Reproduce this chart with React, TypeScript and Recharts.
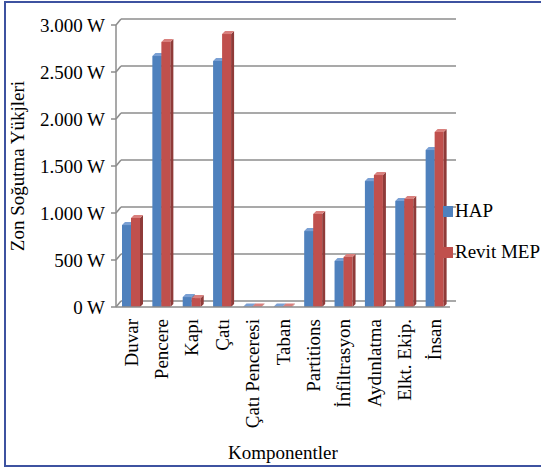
import React from 'react';
import { BarChart, Bar, XAxis, YAxis, CartesianGrid } from 'recharts';

const categories = [
  'Duvar', 'Pencere', 'Kapı', 'Çatı', 'Çatı Penceresi', 'Taban',
  'Partitions', 'İnfiltrasyon', 'Aydınlatma', 'Elkt. Ekip.', 'İnsan'
];
const hapValues = [872, 2670, 106, 2617, 5, 5, 808, 490, 1340, 1128, 1670];
const revitValues = [947, 2820, 95, 2904, 5, 5, 990, 532, 1404, 1149, 1862];
const yTicks = [0, 500, 1000, 1500, 2000, 2500, 3000];

const seriesNames = ['HAP', 'Revit MEP'];
const seriesColors = ['#4F81BD', '#C0504D'];
const sideColors = ['#3a6191', '#8f3b39'];
const topColors = ['#7aa0d4', '#d9807d'];

const data = categories.map((name, i) => ({
  name,
  hap: hapValues[i],
  revit: revitValues[i],
}));

const FONT = "'Liberation Serif', 'Times New Roman', Times, serif";
const FS = 19;
const D = 3;
const GRID = '#8c8c8c';
const txt = { fontFamily: FONT, fontSize: FS, fill: '#000' };

const fmt = (v: number) => `${v.toString().replace(/\B(?=(\d{3})+(?!\d))/g, '.')} W`;

function Bar3D(idx: number) {
  return (props: any) => {
    const { x, y, width, height } = props;
    if (height == null || width == null) return null;
    return (
      <g>
        <rect x={x} y={y} width={width} height={height} fill={seriesColors[idx]} />
        <polygon
          points={`${x + width},${y} ${x + width + D},${y - D} ${x + width + D},${y + height - D} ${x + width},${y + height}`}
          fill={sideColors[idx]}
        />
        <polygon
          points={`${x},${y} ${x + D},${y - D} ${x + width + D},${y - D} ${x + width},${y}`}
          fill={topColors[idx]}
        />
      </g>
    );
  };
}

const gridLine = (p: any) => {
  const { x1, x2, y1 } = p;
  return (
    <g key={`g-${y1}`}>
      <line x1={x1} y1={y1} x2={x1 + 5} y2={y1 - 6} stroke={GRID} strokeWidth={1.5} />
      <line x1={x1 + 5} y1={y1 - 6} x2={x2 + 6} y2={y1 - 6} stroke={GRID} strokeWidth={1.5} />
    </g>
  );
};

const XTick = (props: any) => {
  const { x, y, payload } = props;
  const ty = y + 4;
  return (
    <text
      x={x}
      y={ty}
      transform={`rotate(-90 ${x} ${ty})`}
      textAnchor="end"
      dominantBaseline="central"
      fontFamily={FONT}
      fontSize={FS}
      fill="#000"
    >
      {payload.value}
    </text>
  );
};

const YTitle = () => (
  <text
    x={17}
    y={166}
    transform="rotate(-90 17 166)"
    textAnchor="middle"
    dominantBaseline="central"
    fontFamily={FONT}
    fontSize={FS}
    fill="#000"
  >
    Zon Soğutma Yükjleri
  </text>
);

const LegendBox = () => (
  <div style={{ position: 'absolute', left: 443, top: 200, fontFamily: FONT, fontSize: FS, color: '#000' }}>
    {seriesNames.map((n, i) => (
      <div key={n} style={{ display: 'flex', alignItems: 'center', height: 22, marginBottom: i === 0 ? 19 : 0 }}>
        <span style={{ display: 'inline-block', width: 10, height: 11, background: seriesColors[i], marginRight: 2 }} />
        <span>{n}</span>
      </div>
    ))}
  </div>
);

export default function App() {
  return (
    <div style={{ position: 'absolute', left: 0, top: 0, width: 541, height: 467, background: '#fff', overflow: 'hidden', fontFamily: FONT }}>
      <div
        style={{
          position: 'absolute', left: 4, top: 1, width: 545, height: 462,
          borderLeft: '2px solid #3d52a0', borderTop: '2px solid #3d52a0', borderBottom: '2px solid #3d52a0',
        }}
      />
      <BarChart
        width={541}
        height={467}
        data={data}
        margin={{ top: 25, right: 91, bottom: 0, left: 0 }}
        barGap={0}
        barSize={9}
        style={{ fontFamily: FONT }}
      >
        <CartesianGrid vertical={false} horizontal={gridLine} />
        <XAxis
          dataKey="name"
          interval={0}
          height={160}
          tick={<XTick />}
          tickLine={false}
          axisLine={{ stroke: GRID, strokeWidth: 1.5 }}
          label={{ value: 'Komponentler', position: 'insideBottom', offset: 8, fontFamily: FONT, fontSize: FS, fill: '#000' }}
        />
        <YAxis
          width={116}
          domain={[0, 3000]}
          ticks={yTicks}
          tickFormatter={fmt}
          tick={{ fontFamily: FONT, fontSize: FS, fill: '#000' }}
          tickSize={5}
          tickMargin={6}
          tickLine={{ stroke: GRID, strokeWidth: 1.5 }}
          axisLine={{ stroke: GRID, strokeWidth: 1.5 }}
          label={<YTitle />}
        />
        <Bar dataKey="hap" name={seriesNames[0]} fill={seriesColors[0]} shape={Bar3D(0)} isAnimationActive={false} />
        <Bar dataKey="revit" name={seriesNames[1]} fill={seriesColors[1]} shape={Bar3D(1)} isAnimationActive={false} />
      </BarChart>
      <LegendBox />
    </div>
  );
}
